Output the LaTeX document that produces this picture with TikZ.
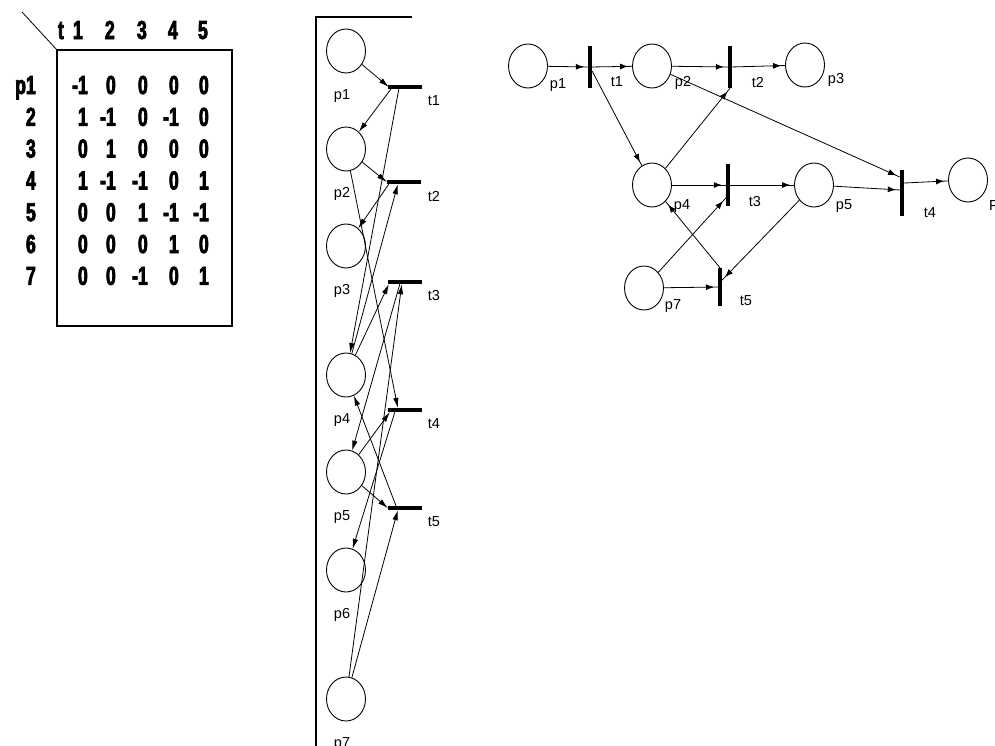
\documentclass[tikz,border=0pt]{standalone}
\usepackage{fontspec}
\setmainfont{Liberation Sans}
\newfontfamily\matfont[FakeStretch=0.68,FakeBold=2.8]{Liberation Sans Bold}
\usetikzlibrary{shapes.geometric,arrows.meta,decorations.markings}

\begin{document}
\begin{tikzpicture}[x=1pt,y=-1pt,
  place/.style={ellipse,draw,line width=0.9pt,minimum width=39pt,minimum height=44pt,inner sep=0pt},
  hbar/.style={rectangle,fill=black,inner sep=0pt,minimum width=34pt,minimum height=4pt},
  vbar/.style={rectangle,fill=black,inner sep=0pt,minimum width=4pt,minimum height=42pt},
  arcm/.style={line width=0.8pt,-{Latex[length=10pt,width=5.5pt]}},
  arcr/.style={line width=0.8pt,postaction={decorate},
    decoration={markings,mark=at position -4pt with {\arrow{Latex[length=8pt,width=6pt]}}}},
  lbl/.style={font=\fontsize{14.5}{14.5}\selectfont,inner sep=0pt},
  cell/.style={font=\matfont\fontsize{26}{26}\selectfont,inner sep=0pt,anchor=base east}]
\useasboundingbox (0,0) rectangle (995,745);

% ---------- incidence matrix ----------
\draw[line width=0.8pt] (22,12) -- (57,50);
\draw[line width=1.2pt] (57,50) rectangle (232,326);
\node[cell] (ht) at (64,39) {t};
\foreach \h/\hx in {1/83,2/115,3/147,4/178,5/208}
  \node[cell] (h\h) at (\hx,39) {\h};
\node[cell] (r1) at (36,94) {p1};
\foreach \r in {2,...,7}
  \node[cell] (r\r) at (36,{94+31.8*(\r-1)}) {\r};
\foreach \rowvals [count=\r] in {{-1,0,0,0,0},{1,-1,0,-1,0},{0,1,0,0,0},{1,-1,-1,0,1},
                                  {0,0,1,-1,-1},{0,0,0,1,0},{0,0,-1,0,1}}{
  \foreach \v [count=\c] in \rowvals {
    \pgfmathsetmacro\cx{{88,116,148,179,209}[\c-1]}
    \node[cell] (m\r\c) at (\cx,{94+31.8*(\r-1)}) {\v};
  }
}

% ---------- column drawing of the net ----------
\draw[line width=1.5pt] (412,17) -- (316,17) -- (316,750);
\foreach \n/\y in {1/51,2/149,3/246,4/375,5/472,6/570,7/699}{
  \node[place] (mp\n) at (346,\y) {};
  \node[lbl] (lmp\n) at (342,\y+45) {p\n};
}
\foreach \n/\x/\y in {1/405/87,2/404/182,3/405/282,4/405/410,5/405/508}{
  \node[hbar] (mt\n) at (\x,\y) {};
  \node[lbl] (lmt\n) at (434,\y+14) {t\n};
}
\draw[arcm] (mp1) -- ([xshift=1pt]mt1.west);
\draw[arcm] ([xshift=3pt]mt1.south west) -- (mp2);
\draw[arcm] ([xshift=11pt]mt1.south west) -- (mp4);
\draw[arcm] (mp2) -- (mt2.west);
\draw[arcm] ([xshift=2pt]mt2.south west) -- (mp3);
\draw[arcm] (mp4) -- ([xshift=11pt]mt2.south west);
\draw[arcm] (mp2) -- ([xshift=10pt]mt4.north west);
\draw[arcm] (mp4) -- ([xshift=1pt]mt3.south west);
\draw[arcm] (mp7) -- ([xshift=14pt]mt3.south west);
\draw[arcm] ([xshift=12pt]mt3.south west) -- (mp5);
\draw[arcm] (mp5) -- ([xshift=2pt]mt4.south west);
\draw[arcm] ([xshift=7pt]mt4.south west) -- (mp6);
\draw[arcm] (mp5) -- (mt5.west);
\draw[arcm] ([xshift=9pt]mt5.west) -- (mp4);
\draw[arcm] (mp7) -- ([xshift=10pt]mt5.south west);

% ---------- net in its usual layout ----------
\node[place] (rp1) at (528,66) {};
\node[place] (rp2) at (652,66) {};
\node[place] (rp3) at (805,65) {};
\node[place] (rp4) at (652,185) {};
\node[place] (rp5) at (814,185) {};
\node[place] (rp6) at (968,180) {};
\node[place] (rp7) at (644,288) {};
\node[vbar] (rt1) at (590,67) {};
\node[vbar] (rt2) at (730,67) {};
\node[vbar] (rt3) at (728,185) {};
\node[vbar,minimum height=46pt] (rt4) at (902,193) {};
\node[vbar,minimum height=38pt] (rt5) at (720,287) {};

\node[lbl] (lrp1) at (558,85) {p1};
\node[lbl] (lrp2) at (683,83) {p2};
\node[lbl] (lrp3) at (836,80) {p3};
\node[lbl] (lrp4) at (682,206) {p4};
\node[lbl] (lrp5) at (844,206) {p5};
\node[lbl,anchor=west] (lrp6) at (989,206) {P};
\node[lbl] (lrp7) at (673,306) {p7};
\node[lbl] (lrt1) at (617,82) {t1};
\node[lbl] (lrt2) at (758,82) {t2};
\node[lbl] (lrt3) at (755,202) {t3};
\node[lbl] (lrt4) at (930,213) {t4};
\node[lbl] (lrt5) at (746,301) {t5};

\draw[arcr] (rp1) -- (rt1);
\draw[arcr] (rt1) -- (rp2);
\draw[arcr] (rp2) -- (rt2);
\draw[arcr] (rt2) -- (rp3);
\draw[arcr] (rt1) -- (rp4);
\draw[arcr] (rp4) -- (rt2.south);
\draw[arcr] (rp2) -- ([yshift=16pt]rt4.west);
\draw[arcr] (rp4) -- (rt3);
\draw[arcr] (rt3) -- (rp5);
\draw[arcr] (rp5) -- ([yshift=3pt]rt4.west);
\draw[arcr] ([yshift=10pt]rt4.east) -- (rp6);
\draw[arcr] (rp7) -- ([yshift=-13pt]rt3.west);
\draw[arcr] (rt5.north) -- (rp4);
\draw[arcr] (rp5) -- ([yshift=7pt]rt5.east);
\draw[arcr] (rp7) -- (rt5);
\end{tikzpicture}
\end{document}
